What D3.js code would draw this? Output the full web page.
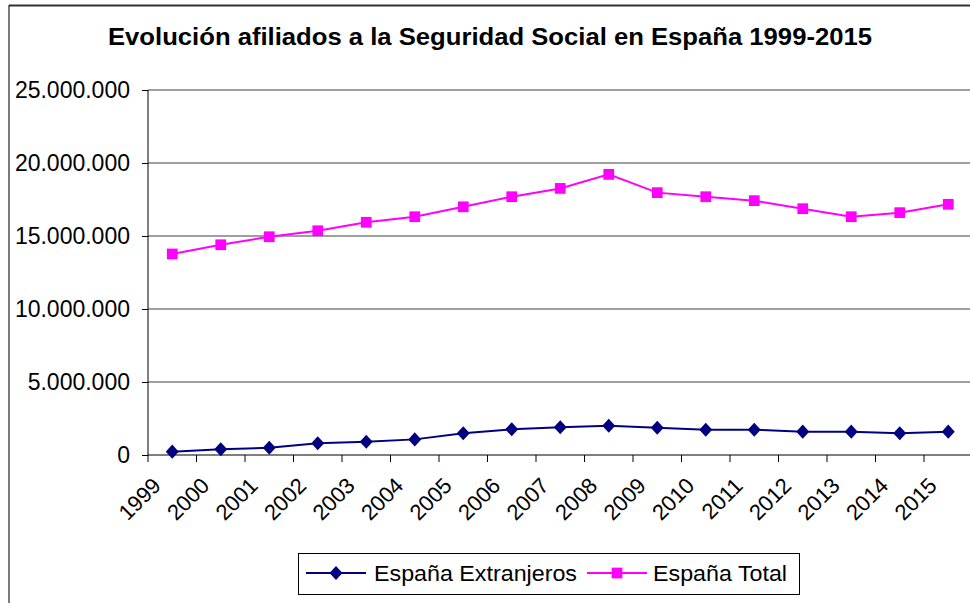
<!DOCTYPE html>
<html>
<head>
<meta charset="utf-8">
<script src="https://cdn.jsdelivr.net/npm/d3@7"></script>
<style>
  html, body { margin: 0; padding: 0; background: #fff; }
  svg { display: block; font-family: 'Liberation Sans', Arial, sans-serif; }
</style>
</head>
<body>
<div id="chart"></div>
<script>
// Afiliados a la Seguridad Social, España 1999-2015
const YEARS = ['1999', '2000', '2001', '2002', '2003', '2004', '2005', '2006', '2007',
               '2008', '2009', '2010', '2011', '2012', '2013', '2014', '2015'];
const EXTRANJEROS = [230000, 390000, 500000, 800000, 910000, 1070000, 1490000, 1760000, 1900000,
                     2000000, 1870000, 1730000, 1730000, 1600000, 1600000, 1490000, 1600000];
const TOTAL = [13770000, 14400000, 14950000, 15360000, 15940000, 16320000, 17000000, 17690000, 18260000,
               19220000, 17970000, 17690000, 17420000, 16870000, 16320000, 16600000, 17170000];
const Y_TICKS = [0, 5000000, 10000000, 15000000, 20000000, 25000000];
const TITLE = 'Evolución afiliados a la Seguridad Social en España 1999-2015';
const SERIES = [
  { name: 'España Extranjeros', values: EXTRANJEROS, color: '#000080', marker: 'diamond' },
  { name: 'España Total',       values: TOTAL,       color: '#FF00FF', marker: 'square' }
];

(function () {
  'use strict';

  const W = 970, H = 603;
  const plot = { left: 148, top: 90, bottom: 455, band: 48.5 };

  const svg = d3.select('#chart').append('svg')
    .attr('width', W).attr('height', H)
    .attr('viewBox', `0 0 ${W} ${H}`);

  // outer frame (only top and left edges visible in the crop)
  svg.append('line').attr('x1', 9).attr('y1', 5.5).attr('x2', W).attr('y2', 5.5)
    .attr('stroke', '#333').attr('stroke-width', 2);
  svg.append('line').attr('x1', 9).attr('y1', 5).attr('x2', 9).attr('y2', H)
    .attr('stroke', '#222').attr('stroke-width', 1.2);

  svg.append('text')
    .attr('x', 108).attr('y', 45)
    .attr('font-size', 23).attr('font-weight', 'bold').attr('fill', '#000')
    .attr('textLength', 764).attr('lengthAdjust', 'spacingAndGlyphs')
    .text(TITLE);

  const x = d3.scaleBand()
    .domain(YEARS)
    .range([plot.left, plot.left + plot.band * YEARS.length])
    .padding(0);
  const y = d3.scaleLinear()
    .domain([0, 25000000])
    .range([plot.bottom, plot.top]);

  const es = d3.formatLocale({ decimal: ',', thousands: '.', grouping: [3], currency: ['', '€'] });
  const fmt = es.format(',d');

  // gridlines
  svg.append('g').selectAll('line')
    .data(Y_TICKS.filter(d => d > 0))
    .join('line')
    .attr('x1', plot.left).attr('x2', W)
    .attr('y1', d => y(d)).attr('y2', d => y(d))
    .attr('stroke', '#7f7f7f').attr('stroke-width', 1.6);

  // y axis
  const yAxis = svg.append('g')
    .attr('transform', `translate(${plot.left},0)`)
    .call(d3.axisLeft(y).tickValues(Y_TICKS).tickFormat(fmt).tickSize(6).tickPadding(12));
  yAxis.select('.domain').attr('stroke', '#000').attr('d', `M0,${plot.top}V${plot.bottom}`);
  yAxis.selectAll('.tick line').attr('stroke', '#000');
  yAxis.selectAll('.tick text')
    .attr('font-size', 23).attr('fill', '#000')
    .attr('font-family', "'Liberation Sans', Arial, sans-serif");

  // x axis: ticks on band boundaries
  const bounds = YEARS.map(d => x(d)).concat([x(YEARS[YEARS.length - 1]) + x.bandwidth()]);
  const xg = svg.append('g');
  xg.append('line')
    .attr('x1', plot.left).attr('x2', W)
    .attr('y1', plot.bottom).attr('y2', plot.bottom)
    .attr('stroke', '#000').attr('stroke-width', 1.2);
  xg.selectAll('line.tk')
    .data(bounds)
    .join('line').attr('class', 'tk')
    .attr('x1', d => d).attr('x2', d => d)
    .attr('y1', plot.bottom).attr('y2', plot.bottom + 7)
    .attr('stroke', '#000');
  xg.selectAll('text')
    .data(YEARS)
    .join('text')
    .attr('transform', d => `translate(${x(d) + x.bandwidth() / 2 - 10},${plot.bottom + 32}) rotate(-45)`)
    .attr('text-anchor', 'end')
    .attr('font-size', 22).attr('fill', '#000')
    .text(d => d);

  const cx = d => x(d) + x.bandwidth() / 2;
  const line = d3.line().x(d => cx(d.year)).y(d => y(d.value));

  // diamond widened to the near-square Excel marker
  const symbolFor = m => m === 'diamond'
    ? d3.symbol().type(d3.symbolDiamond).size(57)
    : d3.symbol().type(d3.symbolSquare).size(115);
  const shape = m => m === 'diamond' ? ' scale(1.6,1)' : '';

  SERIES.forEach(s => {
    const pts = YEARS.map((yr, i) => ({ year: yr, value: s.values[i] }));
    const g = svg.append('g');
    g.append('path')
      .datum(pts)
      .attr('d', line)
      .attr('fill', 'none')
      .attr('stroke', s.color).attr('stroke-width', 2);
    g.selectAll('path.mk')
      .data(pts)
      .join('path').attr('class', 'mk')
      .attr('d', symbolFor(s.marker))
      .attr('transform', d => `translate(${cx(d.year)},${y(d.value)})` + shape(s.marker))
      .attr('fill', s.color);
  });

  // legend
  const lg = svg.append('g');
  lg.append('rect')
    .attr('x', 298.5).attr('y', 553.5).attr('width', 501).attr('height', 41)
    .attr('fill', '#fff').attr('stroke', '#000').attr('stroke-width', 1);
  const legendPos = [{ x0: 306, tx: 374, len: 203 }, { x0: 587, tx: 653, len: 134 }];
  SERIES.forEach((s, i) => {
    const p = legendPos[i];
    lg.append('line')
      .attr('x1', p.x0).attr('x2', p.x0 + 60)
      .attr('y1', 573).attr('y2', 573)
      .attr('stroke', s.color).attr('stroke-width', 2);
    lg.append('path')
      .attr('d', symbolFor(s.marker))
      .attr('transform', `translate(${p.x0 + 30},573)` + shape(s.marker))
      .attr('fill', s.color);
    lg.append('text')
      .attr('x', p.tx).attr('y', 581)
      .attr('font-size', 22).attr('fill', '#000')
      .attr('textLength', p.len).attr('lengthAdjust', 'spacingAndGlyphs')
      .text(s.name);
  });
})();
</script>
</body>
</html>
